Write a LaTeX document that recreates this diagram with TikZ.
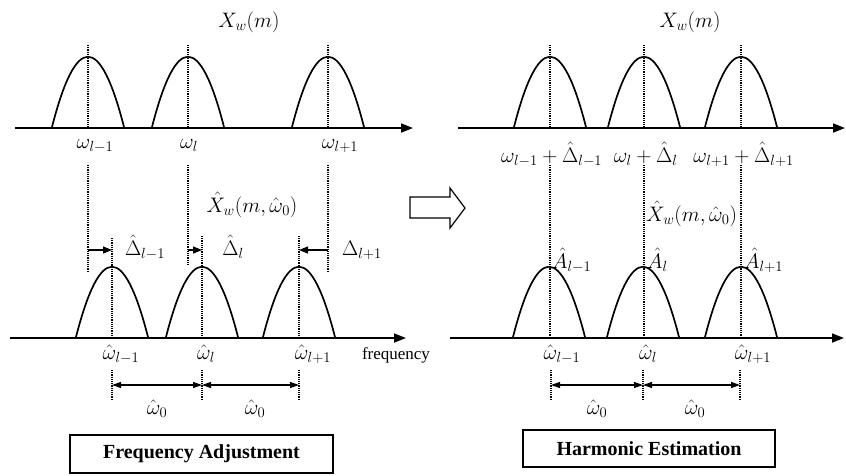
\RequirePackage{fix-cm}
\documentclass[tikz,border=0pt]{standalone}
\usepackage{fontspec}
\setmainfont{Liberation Serif}
\usetikzlibrary{arrows.meta}
\newcommand\mypeak[3]{\draw[peakline] ({#1-36},#2) .. controls ({#1-12},#3) and ({#1+12},#3) .. ({#1+36},#2);}
\begin{document}
\begin{tikzpicture}[x=1pt,y=-1pt,
 axis/.style={line width=1.7pt,-{Triangle[length=12pt,width=9pt]}},
 peakline/.style={line width=1.7pt},
 dotline/.style={line width=1.3pt,dash pattern=on 1.1pt off 1.1pt},
 shiftarrow/.style={line width=1.2pt,-{Triangle[length=9pt,width=7pt]}},
 spanarrow/.style={line width=1.1pt,{Triangle[length=9pt,width=6pt]}-{Triangle[length=9pt,width=6pt]}},
 lbl/.style={font=\fontsize{21}{25}\selectfont, inner sep=0pt},
 boxlbl/.style={draw, line width=1.2pt, font=\fontsize{20}{24}\selectfont\bfseries, inner sep=0pt},
]
\useasboundingbox (0,0) rectangle (846,475);

% ---------------- LEFT PANEL ----------------
\coordinate (lt0) at (15,128); \coordinate (lt1) at (413,128);
\draw[axis] (lt0) -- (lt1);
\coordinate (lb0) at (10,338); \coordinate (lb1) at (406,338);
\draw[axis] (lb0) -- (lb1);

\mypeak{88}{127}{33.3}
\mypeak{188}{127}{33.3}
\mypeak{328}{127}{33.3}
\mypeak{112}{337}{243.3}
\mypeak{202}{337}{243.3}
\mypeak{299}{337}{243.3}

% top dotted lines
\foreach \x in {88,188,328}{\draw[dotline] (\x,45) -- (\x,128);}
% middle dotted lines (original positions)
\coordinate (m1a) at (88,165);  \coordinate (m1b) at (88,272);
\coordinate (m2a) at (188,165); \coordinate (m2b) at (188,265);
\coordinate (m3a) at (328,165); \coordinate (m3b) at (328,272);
\draw[dotline] (m1a) -- (m1b);
\draw[dotline] (m2a) -- (m2b);
\draw[dotline] (m3a) -- (m3b);
% lower peak centre lines
\foreach \x/\y in {112/238,202/236,299/236}{\draw[dotline] (\x,\y) -- (\x,338);}
% bottom dotted lines
\foreach \x in {112,202,299}{\draw[dotline] (\x,370) -- (\x,400);}

% shift arrows
\coordinate (s1a) at (88,250);  \coordinate (s1b) at (112,250);
\coordinate (s2a) at (188,250); \coordinate (s2b) at (202,250);
\coordinate (s3a) at (328,250); \coordinate (s3b) at (299,250);
\draw[shiftarrow] (s1a) -- (s1b);
\draw[shiftarrow] (s2a) -- (s2b);
\draw[shiftarrow] (s3a) -- (s3b);

% spacing arrows
\coordinate (w1) at (112,385); \coordinate (w2) at (202,385); \coordinate (w3) at (299,385);
\draw[spanarrow] (w1) -- (w2);
\draw[spanarrow] (w2) -- (w3);

% labels
\node[lbl, anchor=base] (xwl) at (249,27) {$X_w(m)$};
\node[lbl, anchor=base] (o1) at (95,148) {$\omega_{l-1}$};
\node[lbl, anchor=base] (o2) at (189,148) {$\omega_{l}$};
\node[lbl, anchor=base] (o3) at (340,148) {$\omega_{l+1}$};
\node[lbl, anchor=base] (xhl) at (252,212) {$\hat X_w(m,\hat\omega_0)$};
\node[lbl, anchor=base] (d1) at (145,255) {$\hat\Delta_{l-1}$};
\node[lbl, anchor=base] (d2) at (233,255) {$\hat\Delta_{l}$};
\node[lbl, anchor=base] (d3) at (362,255) {$\Delta_{l+1}$};
\node[lbl, anchor=base] (h1) at (121,359) {$\hat\omega_{l-1}$};
\node[lbl, anchor=base] (h2) at (206,359) {$\hat\omega_{l}$};
\node[lbl, anchor=base] (h3) at (313,359) {$\hat\omega_{l+1}$};
\node[lbl, anchor=base] (z1) at (157,414) {$\hat\omega_0$};
\node[lbl, anchor=base] (z2) at (255,414) {$\hat\omega_0$};
\node[inner sep=0pt, font=\fontsize{17}{20}\selectfont] (fr) at (396,355) {frequency};

\node[boxlbl, minimum width=263pt, minimum height=38pt] (fa) at (201.5,454) {Frequency Adjustment};

% ---------------- HOLLOW ARROW ----------------
\draw[line width=1.2pt] (410,197) -- (450,197) -- (450,188) -- (465,208) -- (450,228) -- (450,218) -- (410,218) -- cycle;

% ---------------- RIGHT PANEL ----------------
\coordinate (rt0) at (458,128); \coordinate (rt1) at (845,128);
\draw[axis] (rt0) -- (rt1);
\coordinate (rb0) at (450,338); \coordinate (rb1) at (844,338);
\draw[axis] (rb0) -- (rb1);

\mypeak{550}{127}{33.3}
\mypeak{644}{127}{33.3}
\mypeak{741}{127}{33.3}
\mypeak{549}{337}{243.3}
\mypeak{643}{337}{243.3}
\mypeak{741}{337}{243.3}

\foreach \x in {550,644,741}{\draw[dotline] (\x,45) -- (\x,128);}
\foreach \x in {550,644,741}{\draw[dotline] (\x,165) -- (\x,338);}
\foreach \x in {551,643,740}{\draw[dotline] (\x,370) -- (\x,400);}

\coordinate (v1) at (551,385); \coordinate (v2) at (643,385); \coordinate (v3) at (740,385);
\draw[spanarrow] (v1) -- (v2);
\draw[spanarrow] (v2) -- (v3);

\node[lbl, anchor=base] (xwr) at (690,27) {$X_w(m)$};
\node[lbl, anchor=base] (r1) at (550,162) {\llap{$\omega_{l-1}\mskip\medmuskip$}$+$\rlap{$\mskip\medmuskip\hat\Delta_{l-1}$}};
\node[lbl, anchor=base] (r2) at (644,162) {\llap{$\omega_{l}\mskip\medmuskip$}$+$\rlap{$\mskip\medmuskip\hat\Delta_{l}$}};
\node[lbl, anchor=base] (r3) at (742,162) {\llap{$\omega_{l+1}\mskip\medmuskip$}$+$\rlap{$\mskip\medmuskip\hat\Delta_{l+1}$}};
\node[lbl, anchor=base west] (xhr) at (646,221) {$\hat X_w(m,\hat\omega_0)$};
\node[lbl, anchor=base west] (a1) at (552,268) {$\hat A_{l-1}$};
\node[lbl, anchor=base west] (a2) at (647,268) {$\hat A_{l}$};
\node[lbl, anchor=base west] (a3) at (744,268) {$\hat A_{l+1}$};
\node[lbl, anchor=base] (g1) at (562,359) {$\hat\omega_{l-1}$};
\node[lbl, anchor=base] (g2) at (648,359) {$\hat\omega_{l}$};
\node[lbl, anchor=base] (g3) at (753,359) {$\hat\omega_{l+1}$};
\node[lbl, anchor=base] (y1) at (597,414) {$\hat\omega_0$};
\node[lbl, anchor=base] (y2) at (695,414) {$\hat\omega_0$};

\node[boxlbl, minimum width=252pt, minimum height=37pt] (he) at (649,448.5) {Harmonic Estimation};
\end{tikzpicture}
\end{document}
